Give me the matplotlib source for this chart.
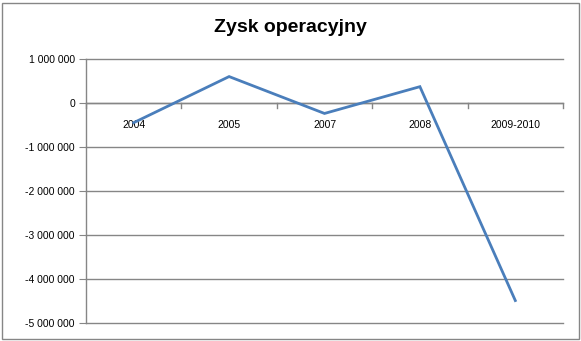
import matplotlib
matplotlib.use("Agg")
import matplotlib.pyplot as plt
from matplotlib.patches import Rectangle
from matplotlib.ticker import FuncFormatter, FixedLocator

categories = ["2004", "2005", "2007", "2008", "2009-2010"]
values = [-450000, 600000, -240000, 370000, -4500000]
yticks = [1000000, 0, -1000000, -2000000, -3000000, -4000000, -5000000]
title = "Zysk operacyjny"

plt.rcParams['font.family'] = ['Liberation Sans', 'DejaVu Sans']

W, H = 581, 341
fig = plt.figure(figsize=(W / 100, H / 100), dpi=100)
ax = fig.add_axes([86 / W, 1 - 322.5 / H, (563 - 86) / W, (322.5 - 59) / H])

grid_c = "#868686"
ax.set_ylim(-5000000, 1000000)
ax.set_xlim(-0.5, len(categories) - 0.5)
ax.yaxis.set_major_locator(FixedLocator(yticks))
ax.yaxis.set_major_formatter(FuncFormatter(
    lambda v, p: ("-" if v < 0 else "") + f"{abs(int(round(v))):,}".replace(",", " ")))
ax.grid(axis='y', color=grid_c, linewidth=1)
for gl in ax.get_ygridlines():
    gl.set_clip_on(False)
ax.set_axisbelow(True)
for s in ['top', 'right', 'bottom']:
    ax.spines[s].set_visible(False)
ax.spines['left'].set_color(grid_c)
ax.spines['left'].set_linewidth(1)
ax.tick_params(axis='y', length=5, color=grid_c, labelsize=7.5, pad=3, labelcolor='black')
ax.set_xticks([])

# category axis at zero with tick marks between categories
ax.axhline(0, color=grid_c, linewidth=1, zorder=1)
x = list(range(len(categories)))
for i in range(len(categories) + 1):
    bx = i - 0.5
    ax.plot([bx, bx], [0, -110000], color=grid_c, linewidth=1, clip_on=False, zorder=1)
for i, c in enumerate(categories):
    ax.text(i, -500000, c, ha='center', va='center', fontsize=7.5, zorder=3)

ax.plot(x, values, color="#4A7EBB", linewidth=2.0, zorder=4, solid_joinstyle='miter')

fig.text(0.5, 1 - 28 / H, title, ha='center', va='center', fontsize=14, fontweight='bold')
fig.patches.append(Rectangle((2.5 / W, 2.5 / H), (W - 5) / W, (H - 5) / H,
                             transform=fig.transFigure, fill=False, edgecolor="#868686", linewidth=1))
fig.savefig("out.png", dpi=100)
